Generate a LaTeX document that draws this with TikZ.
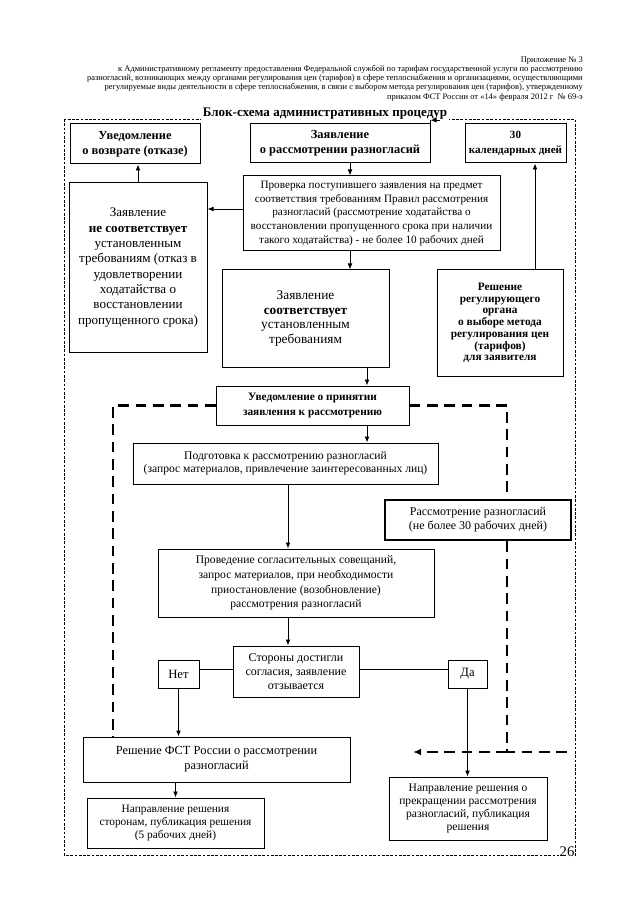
\documentclass[tikz,border=0pt]{standalone}
\usepackage{fontspec}
\setmainfont{Liberation Serif}
\usetikzlibrary{arrows.meta}
\newcommand\fsz[2]{\fontsize{#1}{#2}\selectfont}
\newcommand\bnode[7]{% name, style, x1,y1,x2,y2, text
  \pgfmathsetmacro\bxcx{(#3+#5)/2}\pgfmathsetmacro\bxcy{(#4+#6)/2}%
  \pgfmathsetmacro\bxw{(#5-#3)*0.75}\pgfmathsetmacro\bxh{(#6-#4)*0.75}%
  \node[box,#2,minimum width=\bxw pt,minimum height=\bxh pt] (#1) at (\bxcx,\bxcy) {#7};}
\begin{document}
\begin{tikzpicture}[x=0.75pt,y=-0.75pt,
  box/.style={draw, line width=0.75pt, inner sep=0pt, align=center},
  arr/.style={line width=0.6pt,-{Latex[length=4.5pt,width=3.6pt]}},
  ln/.style={line width=0.6pt},
  tdash/.style={line width=1.7pt, dash pattern=on 8pt off 5pt},
  framedot/.style={line width=0.5pt, dash pattern=on 2pt off 1.2pt},
  hdr/.style={anchor=base east, inner sep=0pt, font=\fsz{6.35}{7}}]
\useasboundingbox (0,0) rectangle (640,905);
\fill[white] (0,0) rectangle (640,905);

% header
\node[hdr] (h1) at (583,63) {Приложение № 3};
\node[hdr] (h2) at (583,72) {к Административному регламенту предоставления Федеральной службой по тарифам государственной услуги по рассмотрению};
\node[hdr] (h3) at (583,81) {разногласий, возникающих между органами регулирования цен (тарифов) в сфере теплоснабжения и организациями, осуществляющими};
\node[hdr] (h4) at (583,90) {регулируемые виды деятельности в сфере теплоснабжения, в связи с выбором метода регулирования цен (тарифов), утвержденному};
\node[hdr] (h5) at (583,100) {приказом ФСТ России от «14» февраля 2012 г\ \ № 69-э};

% frame
\draw[framedot] (64,119) rectangle (575,855);
\node[fill=white, inner sep=1.5pt, anchor=base, font=\bfseries\fsz{9.8}{12}] (title) at (325,117) {Блок-схема административных процедур};
\node[fill=white, inner sep=0.5pt, font=\fsz{11}{12}] (pg) at (567,852) {26};

% boxes
\bnode{uv}{font=\fsz{9.3}{11.5}\bfseries}{70}{124}{200}{164}{Уведомление\\о возврате (отказе)}
\bnode{zay}{font=\fsz{9.3}{11.5}\bfseries}{250}{124}{430}{163}{Заявление\\о рассмотрении разногласий}
\bnode{d30}{font=\fsz{8.3}{11.5}\bfseries}{465}{124}{566}{163}{30\\календарных дней}
\bnode{pr}{font=\fsz{8.4}{10.3}}{243}{176}{500}{251}{Проверка поступившего заявления на предмет\\соответствия требованиям Правил рассмотрения\\разногласий (рассмотрение ходатайства о\\восстановлении пропущенного срока при наличии\\такого ходатайства) - не более 10 рабочих дней}
\bnode{nes}{font=\fsz{9.8}{11.5}}{69}{183}{207}{352}{Заявление\\\textbf{не соответствует}\\установленным\\требованиям (отказ в\\удовлетворении\\ходатайства о\\восстановлении\\пропущенного срока)}
\bnode{soot}{font=\fsz{10}{11}}{222}{270}{389}{367}{Заявление\\\textbf{соответствует}\\установленным\\требованиям}
\bnode{resh}{font=\fsz{8.5}{8.8}\bfseries}{437}{270}{563}{376}{Решение\\регулирующего\\органа\\о выборе метода\\регулирования цен\\(тарифов)\\для заявителя}
\bnode{uvp}{font=\fsz{8.5}{11}\bfseries}{216}{386}{409}{425}{Уведомление о принятии\\заявления к рассмотрению}
\bnode{pod}{font=\fsz{8.7}{10}}{133}{443}{438}{484}{Подготовка к рассмотрению разногласий\\(запрос материалов, привлечение заинтересованных лиц)}
\bnode{rass}{line width=1.8pt,font=\fsz{9}{10.5}}{385}{500}{571}{540}{Рассмотрение разногласий\\(не более 30 рабочих дней)}
\bnode{prov}{font=\fsz{8.7}{11}}{158}{549}{434}{617}{Проведение согласительных совещаний,\\запрос материалов, при необходимости\\приостановление (возобновление)\\рассмотрения разногласий}
\bnode{st}{font=\fsz{9}{10.5}}{233}{646}{359}{697}{Стороны достигли\\согласия, заявление\\отзывается}
\bnode{net}{font=\fsz{9.5}{11}}{158}{660}{199}{688}{Нет}
\bnode{da}{font=\fsz{9.5}{11}}{448}{660}{487}{688}{Да}
\bnode{fst}{font=\fsz{9.3}{11.25}}{83}{737}{350}{782}{Решение ФСТ России о рассмотрении\\разногласий}
\bnode{np1}{font=\fsz{8.5}{10}}{87}{798}{264}{848}{Направление решения\\сторонам, публикация решения\\(5 рабочих дней)}
\bnode{np2}{font=\fsz{8.7}{9.6}}{389}{777}{547}{840}{Направление решения о\\прекращении рассмотрения\\разногласий, публикация\\решения}

% helper coordinates
\coordinate (cx1) at (350,0);
\coordinate (cx2) at (535,0);
\coordinate (cx3) at (367,0);
\coordinate (cx4) at (288,0);
\coordinate (cxL) at (113,0);
\coordinate (cxR) at (507,0);
\coordinate (cy1) at (0,209);
\coordinate (cy2) at (0,669);
\coordinate (cE) at (570,752);
\coordinate (cA) at (413,752);

% connectors
\draw[arr] (zay.south -| cx1) -- (pr.north -| cx1);
\draw[arr] (pr.west |- cy1) -- (nes.east |- cy1);
\draw[arr] (nes.north) -- (nes.north |- uv.south);
\draw[arr] (pr.south -| cx1) -- (soot.north -| cx1);
\draw[arr] (resh.north -| cx2) -- (d30.south -| cx2);
\draw[ln] (zay.north east) -- ([yshift=2.5pt]zay.north east);
\draw[arr] ([xshift=7pt,yshift=2.5pt]zay.north east) -- ([yshift=2.5pt]zay.north east);
\draw[arr] (soot.south -| cx3) -- (uvp.north -| cx3);
\draw[arr] (uvp.south -| cx3) -- (pod.north -| cx3);
\draw[arr] (pod.south -| cx4) -- (prov.north -| cx4);
\draw[arr] (prov.south -| cx4) -- (st.north -| cx4);
\draw[ln] (net.east |- cy2) -- (st.west |- cy2);
\draw[ln] (st.east |- cy2) -- (da.west |- cy2);
\draw[arr] (net.south) -- (net.south |- fst.north);
\draw[arr] (da.south) -- (da.south |- np2.north);
\draw[arr] (np1.north |- fst.south) -- (np1.north);

% thick dashed
\draw[tdash] (uvp.west) -| (cxL |- fst.north);
\draw[tdash] (uvp.east) -| (rass.north -| cxR);
\draw[tdash] (rass.south -| cxR) |- (cE);
\draw[tdash,-{Latex[length=6pt,width=5pt]}] (cxR |- cE) -- (cA);
\end{tikzpicture}
\end{document}
